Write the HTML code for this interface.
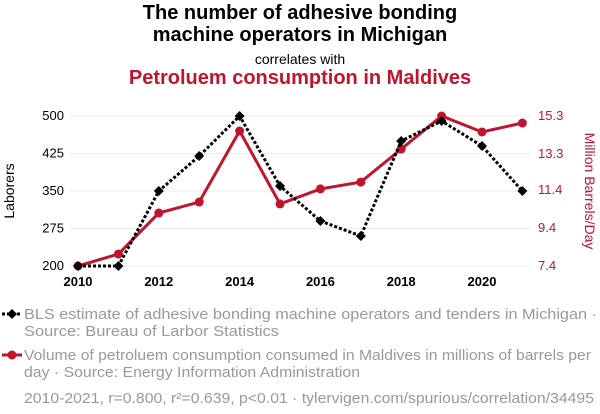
<!DOCTYPE html>
<html><head><meta charset="utf-8"><style>
body{margin:0;background:#fff;font-family:"Liberation Sans",sans-serif;}
#wrap{position:relative;width:600px;height:414px;overflow:hidden;}
.t{position:absolute;left:0;width:600px;text-align:center;}
</style></head><body>
<div id="wrap">
<div class="t" style="top:2px;font-size:20px;font-weight:bold;line-height:22px;color:#000">The number of adhesive bonding<br>machine operators in Michigan</div>
<div class="t" style="top:51px;font-size:14px;color:#000">correlates with</div>
<div class="t" style="top:67px;font-size:20px;font-weight:bold;color:#c0152f">Petroluem consumption in Maldives</div>
<svg id="chart" width="600" height="414" style="position:absolute;left:0;top:0"></svg>
</div>
<script>
const years=[2010,2011,2012,2013,2014,2015,2016,2017,2018,2019,2020,2021];
const laborers=[200,200,350,420,500,360,290,260,450,490,440,350];
const petroleum=[7.4,8.03,10.19,10.77,14.51,10.67,11.46,11.82,13.56,15.3,14.46,14.93];
const leftTicks=[200,275,350,425,500];
const rightTicks=[7.4,9.4,11.4,13.3,15.3];
const xTicks=[2010,2012,2014,2016,2018,2020];
const svg=document.getElementById('chart');
const NS='http://www.w3.org/2000/svg';
const x=v=>78+(v-2010)*40.4;
const yL=v=>266-(v-200)*0.5;
const yR=v=>266-(v-7.4)/7.9*150;
function mk(t,a,p){const e=document.createElementNS(NS,t);for(const k in a)e.setAttribute(k,a[k]);(p||svg).appendChild(e);return e;}
leftTicks.forEach(v=>{
 const g=mk('line',{x1:70,x2:530,y1:yL(v),y2:yL(v),stroke:'#eee'});
 
 
 const t=mk('text',{x:64,y:yL(v)+4,'text-anchor':'end','font-size':13,fill:'#000'});t.textContent=v;
 
 
});
rightTicks.forEach(v=>{
 const t=mk('text',{x:538,y:yR(v)+4,'font-size':13,fill:'#c0152f'});t.textContent=v.toFixed(1);
 
 
});
xTicks.forEach(v=>{
 const t=mk('text',{x:x(v),y:286,'text-anchor':'middle','font-size':13,'font-weight':'bold',fill:'#000'});t.textContent=v;
 
 
});
let yt=mk('text',{x:0,y:0,transform:'translate(14,191) rotate(-90)','text-anchor':'middle','font-size':14,fill:'#000'});yt.textContent='Laborers';


let yt2=mk('text',{x:0,y:0,transform:'translate(585,191) rotate(90)','text-anchor':'middle','font-size':14,fill:'#c0152f'});yt2.textContent='Million Barrels/Day';


let rl=mk('polyline',{points:years.map((yv,i)=>x(yv)+','+yR(petroleum[i])).join(' '),fill:'none',stroke:'#c0152f','stroke-width':3});


years.forEach((yv,i)=>{const c=mk('circle',{cx:x(yv),cy:yR(petroleum[i]),r:4.5,fill:'#c0152f'});
 
 });
let bl=mk('polyline',{points:years.map((yv,i)=>x(yv)+','+yL(laborers[i])).join(' '),fill:'none',stroke:'#000','stroke-width':3,'stroke-dasharray':'3,2'});


years.forEach((yv,i)=>{const X=x(yv),Y=yL(laborers[i]);const d=mk('polygon',{points:`${X},${Y-5} ${X+5},${Y} ${X},${Y+5} ${X-5},${Y}`,fill:'#000'});
 
 });
let l1=mk('line',{x1:2,x2:22,y1:314,y2:314,stroke:'#000','stroke-width':3,'stroke-dasharray':'3,2'});


let d1=mk('polygon',{points:'12,309 17,314 12,319 7,314',fill:'#000'});


let l2=mk('line',{x1:2,x2:22,y1:355,y2:355,stroke:'#c0152f','stroke-width':3});


let c2=mk('circle',{cx:12,cy:355,r:4.5,fill:'#c0152f'});


function txt(s,X,Y,name,w){const a={x:X,y:Y,'font-size':14.5,fill:'#999'};if(w){a.textLength=w;a.lengthAdjust='spacingAndGlyphs';}
 const t=mk('text',a);t.textContent=s;
 
 }
txt('BLS estimate of adhesive bonding machine operators and tenders in Michigan ·',24,319,'legend-laborers-text',573);
txt('Source: Bureau of Larbor Statistics',24,336,'legend-laborers-source',255);
txt('Volume of petroluem consumption consumed in Maldives in millions of barrels per',24,360,'legend-petroleum-text',567);
txt('day · Source: Energy Information Administration',24,377,'legend-petroleum-source',336);
txt('2010-2021, r=0.800, r²=0.639, p<0.01 · tylervigen.com/spurious/correlation/34495',24,403,'footer-stats',570);
</script>
</body></html>
